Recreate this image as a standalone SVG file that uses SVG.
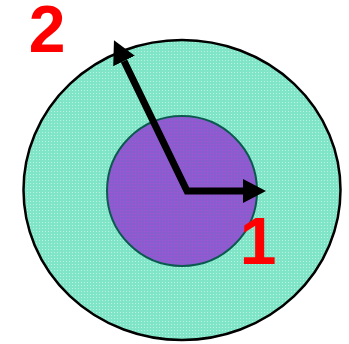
<svg xmlns="http://www.w3.org/2000/svg" width="349" height="344" viewBox="0 0 349 344">
<style>
.lbl{font-family:"Liberation Sans",Arial,sans-serif;font-weight:bold;font-size:66px;fill:#ff0000;text-anchor:middle}
.arr{fill:none;stroke:#000;stroke-width:7;stroke-linejoin:miter}
</style>
<defs>
<pattern id="dotsT" width="3" height="3" patternUnits="userSpaceOnUse">
<rect width="3" height="3" fill="#80e4c6"/>
<rect width="1" height="1" fill="#b8f2e0"/>
</pattern>
<pattern id="dotsP" width="3" height="3" patternUnits="userSpaceOnUse">
<rect width="3" height="3" fill="#8a5dcf"/>
<rect width="1" height="1" fill="#b04ed8"/>
</pattern>
<marker id="head" markerUnits="userSpaceOnUse" markerWidth="24" markerHeight="24" refX="0" refY="12" orient="auto-start-reverse" viewBox="0 0 24 24">
<path d="M0,0 L23,12 L0,24 z" fill="#000"/>
</marker>
</defs>
<g id="outer"><ellipse cx="182" cy="190" rx="158.5" ry="150" fill="url(#dotsT)" stroke="#000" stroke-width="2.5"/></g>
<g id="inner"><circle cx="182" cy="191" r="75" fill="url(#dotsP)" stroke="#0b5a50" stroke-width="2"/></g>
<g id="connectors">
<path class="arr" d="M124,61 L187,191 L243,191" marker-start="url(#head)" marker-end="url(#head)"/>
</g>
<g id="label2"><text class="lbl" x="47" y="52">2</text></g>
<g id="label1"><text class="lbl" x="258" y="264">1</text></g>
</svg>
